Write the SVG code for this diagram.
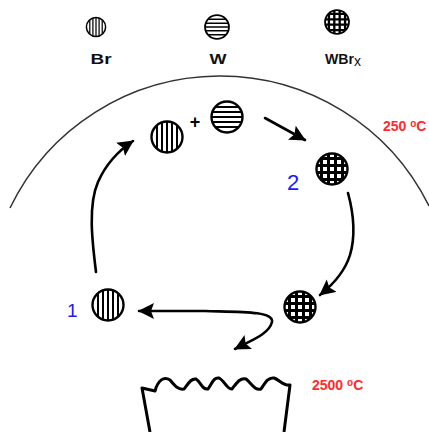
<svg xmlns="http://www.w3.org/2000/svg" width="429" height="432" viewBox="0 0 429 432">
  <style>
    .lbl { font-family: "Liberation Sans", Arial, sans-serif; font-weight: bold; font-size: 14px; fill: #111; text-anchor: middle; }
    .num { font-family: "Liberation Sans", Arial, sans-serif; fill: #1a1aff; }
    .temp { font-family: "Liberation Sans", Arial, sans-serif; font-weight: bold; font-size: 14px; fill: #ff2a2a; }
    .conn { fill: none; stroke: #000; stroke-width: 2.6; stroke-linecap: round; stroke-linejoin: round; }
    .rim { fill: none; stroke: #000; stroke-width: 2.4; }
    .hatch { stroke: #000; stroke-width: 2; }
    .grid { stroke: #000; stroke-width: 3; }
  </style>
  <defs>
    <clipPath id="disc"><circle r="15.5"/></clipPath>
    <marker id="head" markerUnits="userSpaceOnUse" markerWidth="18" markerHeight="18" refX="15" refY="8" orient="auto-start-reverse">
      <path d="M0,0 L16,8 L0,16 L3,8 z" fill="#000"/>
    </marker>
    <!-- bromine atom: vertical stripes -->
    <g id="atom-br">
      <circle r="15.5" fill="#fff"/>
      <g clip-path="url(#disc)" class="hatch">
        <line x1="-10" y1="-16" x2="-10" y2="16"/>
        <line x1="-5" y1="-16" x2="-5" y2="16"/>
        <line x1="0" y1="-16" x2="0" y2="16"/>
        <line x1="5" y1="-16" x2="5" y2="16"/>
        <line x1="10" y1="-16" x2="10" y2="16"/>
      </g>
      <circle r="15.5" class="rim"/>
    </g>
    <!-- tungsten atom: horizontal stripes -->
    <g id="atom-w">
      <circle r="15.5" fill="#fff"/>
      <g clip-path="url(#disc)" class="hatch">
        <line x1="-16" y1="-10" x2="16" y2="-10"/>
        <line x1="-16" y1="-5" x2="16" y2="-5"/>
        <line x1="-16" y1="0" x2="16" y2="0"/>
        <line x1="-16" y1="5" x2="16" y2="5"/>
        <line x1="-16" y1="10" x2="16" y2="10"/>
      </g>
      <circle r="15.5" class="rim"/>
    </g>
    <!-- tungsten bromide: cross-hatched -->
    <g id="atom-wbr">
      <circle r="15.5" fill="#fff"/>
      <g clip-path="url(#disc)" class="grid">
        <line x1="-10.5" y1="-16" x2="-10.5" y2="16"/>
        <line x1="-3.5" y1="-16" x2="-3.5" y2="16"/>
        <line x1="3.5" y1="-16" x2="3.5" y2="16"/>
        <line x1="10.5" y1="-16" x2="10.5" y2="16"/>
        <line x1="-16" y1="-10.5" x2="16" y2="-10.5"/>
        <line x1="-16" y1="-3.5" x2="16" y2="-3.5"/>
        <line x1="-16" y1="3.5" x2="16" y2="3.5"/>
        <line x1="-16" y1="10.5" x2="16" y2="10.5"/>
      </g>
      <circle r="15.5" class="rim"/>
    </g>
  </defs>

  <rect width="429" height="432" fill="#fff"/>

  <!-- legend -->
  <g id="legend-br">
    <use href="#atom-br" transform="translate(96,27) scale(0.62)"/>
    <text class="lbl" x="101" y="64" textLength="21" lengthAdjust="spacingAndGlyphs">Br</text>
  </g>
  <g id="legend-w">
    <use href="#atom-w" transform="translate(217,27) scale(0.77)"/>
    <text class="lbl" x="218" y="64" textLength="17" lengthAdjust="spacingAndGlyphs">W</text>
  </g>
  <g id="legend-wbr">
    <use href="#atom-wbr" transform="translate(337,22) scale(0.77)"/>
    <text class="lbl" x="325" y="64" style="text-anchor:start" textLength="29" lengthAdjust="spacingAndGlyphs">WBr</text>
    <text class="lbl" x="354" y="66" style="text-anchor:start; font-weight:normal" font-size="8">x</text>
  </g>

  <!-- bulb glass -->
  <path d="M10,208 A233,233 0 0 1 429,206" fill="none" stroke="#333" stroke-width="1.5"/>
  <text class="temp" x="383" y="131">250 <tspan font-size="10" dy="-4">o</tspan><tspan dy="4">C</tspan></text>

  <!-- filament -->
  <g id="filament">
    <path d="M150,432 L142,388 L155,391 C158,380 164,376 170,380 C175,386 178,390 184,389 C188,384 191,378 196,379 C201,382 202,390 208,389 C212,383 214,377 219,378 C225,381 227,390 232,389 C236,384 240,377 246,379 C252,384 255,391 261,389 C265,383 268,377 274,378 C280,380 283,386 290,385 L284,432" fill="none" stroke="#000" stroke-width="3" stroke-linejoin="round"/>
    <text class="temp" x="312" y="390">2500 <tspan font-size="10" dy="-4">o</tspan><tspan dy="4">C</tspan></text>
  </g>

  <!-- reaction species -->
  <g id="br-top"><use href="#atom-br" transform="translate(167,137)"/></g>
  <g id="plus"><text x="195" y="128" font-family="Liberation Sans, Arial, sans-serif" font-weight="bold" font-size="18" text-anchor="middle">+</text></g>
  <g id="w-top"><use href="#atom-w" transform="translate(227,117)"/></g>
  <g id="wbr-2">
    <use href="#atom-wbr" transform="translate(332,169)"/>
    <text class="num" x="287" y="190" font-size="22">2</text>
  </g>
  <g id="wbr-hot"><use href="#atom-wbr" transform="translate(300,307)"/></g>
  <g id="br-1">
    <use href="#atom-br" transform="translate(108,305)"/>
    <text class="num" x="67" y="317" font-size="19">1</text>
  </g>

  <!-- connectors -->
  <g id="connectors">
    <path class="conn" d="M265,118 L305,140" marker-end="url(#head)"/>
    <path class="conn" d="M348,193 C354,215 355,238 350,255 C345,271 335,283 320,295" marker-end="url(#head)"/>
    <path class="conn" d="M96,272 C92,240 88,205 98,182 C106,164 118,151 133,141" marker-end="url(#head)"/>
    <path class="conn" d="M139,311 L205,311 C240,312 274,311 272,322 C269,334 252,340 235,349" marker-start="url(#head)" marker-end="url(#head)"/>
  </g>
</svg>
